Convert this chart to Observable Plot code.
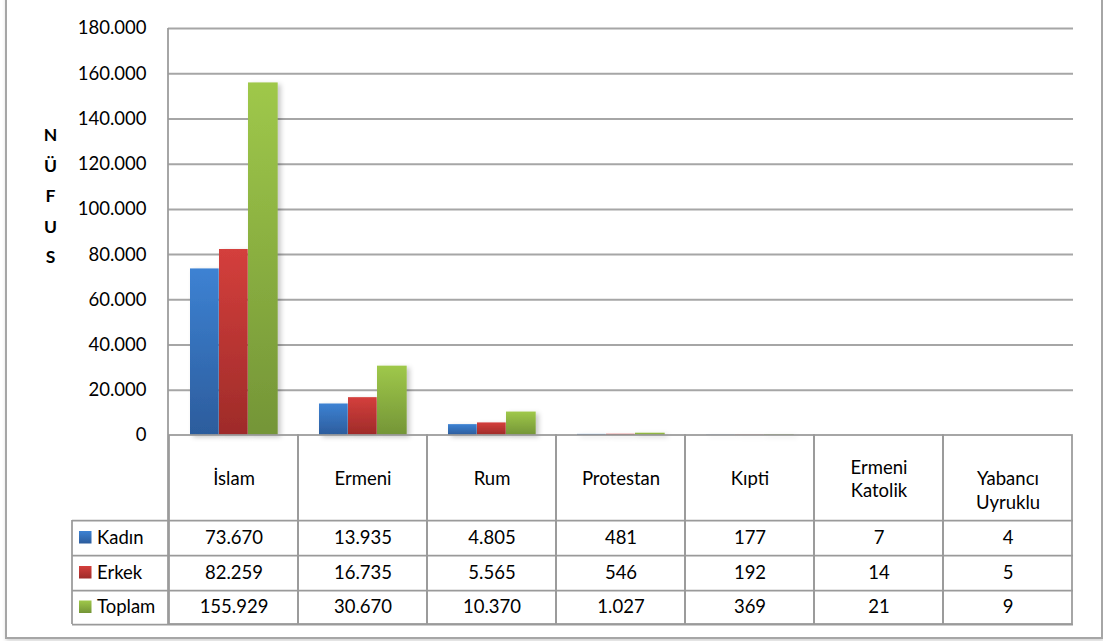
<!DOCTYPE html>
<html>
<head>
<meta charset="utf-8">
<script src="https://cdn.jsdelivr.net/npm/d3@7"></script>
<script src="https://cdn.jsdelivr.net/npm/@observablehq/plot@0.6"></script>
<style>
  body { margin: 0; background: #fff; }
  #wrap { position: relative; width: 1103px; height: 641px; overflow: hidden; background: #fff; }
  #chart { position: absolute; left: 0; top: 0; }
  #frame { position: absolute; left: 5px; top: -10px; width: 1094px; height: 645px;
           border: 2px solid #a6a6a6; box-shadow: 1px 2px 4px rgba(0,0,0,0.18); pointer-events: none; }
</style>
</head>
<body>
<div id="wrap"><div id="chart"></div><div id="frame"></div></div>
<script>
// ---- data ----
const categories = ["İslam", "Ermeni", "Rum", "Protestan", "Kıpti", "Ermeni Katolik", "Yabancı Uyruklu"];
const headerLabels = ["İslam", "Ermeni", "Rum", "Protestan", "Kıpti", "Ermeni\nKatolik", "\nYabancı\nUyruklu"];
const series = ["Kadın", "Erkek", "Toplam"];
const kadin  = [73670, 13935, 4805, 481, 177, 7, 4];
const erkek  = [82259, 16735, 5565, 546, 192, 14, 5];
const toplam = [155929, 30670, 10370, 1027, 369, 21, 9];
const yTicks = [0, 20000, 40000, 60000, 80000, 100000, 120000, 140000, 160000, 180000];
const yLabel = "NÜFUS";

// ---- styling helpers ----
const seriesValues = [kadin, erkek, toplam];
const gradIds = ["gBlue", "gRed", "gGreen"];
const gradStops = [["#3d82d3", "#2c5c9c"], ["#d43f3c", "#9e2b29"], ["#9fc84a", "#749537"]];
const fmt = d3.formatLocale({decimal: ",", thousands: ".", grouping: [3], currency: ["", ""]}).format(",d");
const FONT = "Lato, 'Open Sans', sans-serif";
const FONT_SIZE = 18.5;
const lineColor = "#9a9a9a";

const rows = categories.map((c, i) => ({category: c, header: headerLabels[i]}));
const bars = series.map((s, si) => categories.map((c, i) => ({category: c, series: s, value: seriesValues[si][i]})));

// row centers / line offsets below the baseline (px)
const headerCenter = 42.5;
const rowCenters = [102.5, 137.5, 172];
const rowLines = [85, 120, 155, 189];
const legendColWidth = 96;

const barInsets = [[21, 79.3], [50, 50.3], [79, 20.3]];

const defsMark = () => {
  const defs = d3.create("svg:defs");
  gradIds.forEach((id, i) => {
    const g = defs.append("linearGradient").attr("id", id)
      .attr("x1", 0).attr("y1", 0).attr("x2", 0).attr("y2", 1);
    g.append("stop").attr("offset", "0%").attr("stop-color", gradStops[i][0]);
    g.append("stop").attr("offset", "100%").attr("stop-color", gradStops[i][1]);
  });
  const f = defs.append("filter").attr("id", "barShadow")
    .attr("x", "-30%").attr("y", "-10%").attr("width", "180%").attr("height", "130%");
  f.append("feDropShadow").attr("dx", 3).attr("dy", 2).attr("stdDeviation", 2.5)
    .attr("flood-color", "#000").attr("flood-opacity", 0.22);
  return defs.node();
};

const extrasMark = (index, scales, values, dims) => {
  const {marginLeft, marginTop, height, marginBottom} = dims;
  const y0 = height - marginBottom;
  const g = d3.create("svg:g");
  const left = marginLeft - legendColWidth;
  // value axis line
  g.append("line").attr("x1", marginLeft).attr("x2", marginLeft)
    .attr("y1", marginTop).attr("y2", y0 + rowLines[3])
    .attr("stroke", lineColor).attr("stroke-width", 1.75);
  // legend column left edge
  g.append("line").attr("x1", left).attr("x2", left)
    .attr("y1", y0 + rowLines[0]).attr("y2", y0 + rowLines[3])
    .attr("stroke", lineColor).attr("stroke-width", 1.75);
  series.forEach((s, i) => {
    const cy = y0 + rowCenters[i];
    g.append("rect").attr("x", left + 7).attr("y", cy - 6.5)
      .attr("width", 12.5).attr("height", 12.5).attr("fill", `url(#${gradIds[i]})`);
    g.append("text").attr("x", left + 25).attr("y", cy).attr("dy", "0.34em")
      .attr("text-anchor", "start").attr("fill", "#000").text(s);
  });
  return g.node();
};

const marks = [
  defsMark,
  Plot.ruleY(yTicks.filter(v => v > 0), {stroke: "#a6a6a6", strokeWidth: 2, strokeOpacity: 1}),
  ...bars.map((data, si) => Plot.barY(data, {
    x: "category", y: "value",
    fill: `url(#${gradIds[si]})`,
    insetLeft: barInsets[si][0], insetRight: barInsets[si][1]
  })),
  // table columns (baseline to bottom of table)
  Plot.barY(rows, {x: "category", y1: () => 0, y2: () => 0, insetBottom: -rowLines[3],
    fill: "none", stroke: lineColor, strokeWidth: 1.75}),
  ...rowLines.map(off => Plot.ruleY([0], {dy: off, insetLeft: -legendColWidth, stroke: lineColor, strokeWidth: 1.75, strokeOpacity: 1})),
  // header
  Plot.text(rows, {x: "category", frameAnchor: "bottom", dy: headerCenter, text: "header",
    lineAnchor: "middle", lineHeight: 1.25, fill: "#000"}),
  // values
  ...series.map((s, si) => Plot.text(bars[si], {x: "category", frameAnchor: "bottom", dy: rowCenters[si],
    text: d => fmt(d.value), lineAnchor: "middle", fill: "#000"})),
  // y label
  Plot.text([yLabel], {frameAnchor: "top-left", dx: -118, dy: 164, text: d => d.split("").join("\n"),
    lineAnchor: "middle", lineHeight: 1.74, textAnchor: "middle", fontWeight: "bold", fontSize: 17.5, fill: "#000"}),
  extrasMark
];

const chart = Plot.plot({
  width: 1103,
  height: 641,
  marginTop: 28,
  marginBottom: 206,
  marginLeft: 168,
  marginRight: 30,
  style: {fontFamily: FONT, fontSize: FONT_SIZE + "px", color: "#000", background: "transparent"},
  x: {domain: categories, padding: 0, axis: null},
  y: {domain: [0, 180000], ticks: 9, tickFormat: fmt, tickSize: 0, tickPadding: 22, label: null},
  marks
});

d3.select(chart).selectAll("g[aria-label='bar']").filter(function(d, i) { return i < 3; })
  .attr("filter", "url(#barShadow)");

document.getElementById("chart").appendChild(chart);
</script>
</body>
</html>
